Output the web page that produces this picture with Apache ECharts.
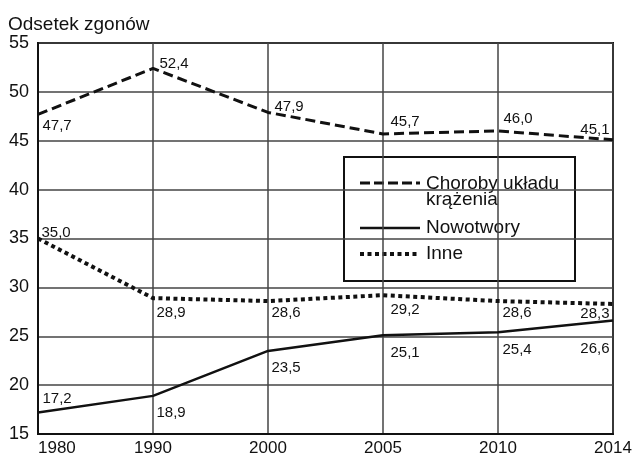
<!DOCTYPE html>
<html>
<head>
<meta charset="utf-8">
<script src="https://cdn.jsdelivr.net/npm/echarts@6/dist/echarts.min.js"></script>
<style>
  html, body { margin: 0; padding: 0; background: #fff; }
  #chart { width: 635px; height: 457px; }
</style>
</head>
<body>
<div id="chart"></div>
<script>
// Struktura zgonów według przyczyn (odsetek)
const years = ['1980', '1990', '2000', '2005', '2010', '2014'];
const krazenie = [47.7, 52.4, 47.9, 45.7, 46.0, 45.1];
const nowotwory = [17.2, 18.9, 23.5, 25.1, 25.4, 26.6];
const inne = [35.0, 28.9, 28.6, 29.2, 28.6, 28.3];

const seriesNames = ['Choroby układu\nkrążenia', 'Nowotwory', 'Inne'];

// label placement for each point: [side, dx, dy]
const krazenieLabelPos = [['r', 4, 12], ['r', 6, -5], ['r', 6, -6], ['r', 7, -12], ['r', 5, -12], ['l', -3, -10]];
const nowotworyLabelPos = [['r', 4, -14], ['r', 3, 17], ['r', 3, 17], ['r', 7, 18], ['r', 4, 18], ['l', -3, 28]];
const inneLabelPos = [['r', 3, -6], ['r', 3, 15], ['r', 3, 12], ['r', 7, 15], ['r', 4, 12], ['l', -3, 10]];

const INK = '#111';
const labelFont = '"Liberation Sans Narrow", "Arial Narrow", "Liberation Sans", sans-serif';
const mainFont = '"Liberation Sans", Arial, sans-serif';

function fmt(v) { return v.toFixed(1).replace('.', ','); }

function buildData(values, placement) {
  return values.map((v, i) => {
    const p = placement[i];
    return {
      value: v,
      label: {
        position: p[0] === 'r' ? 'right' : 'left',
        align: p[0] === 'r' ? 'left' : 'right',
        offset: [p[1], p[2]]
      }
    };
  });
}

function lineSeries(name, values, placement, lineStyle) {
  return {
    name: name,
    type: 'line',
    data: buildData(values, placement),
    symbol: 'circle',
    symbolSize: 1,
    itemStyle: { color: 'rgba(0,0,0,0)' },
    lineStyle: Object.assign({ color: INK }, lineStyle),
    label: {
      show: true,
      distance: 0,
      verticalAlign: 'middle',
      color: INK,
      fontFamily: labelFont,
      fontSize: 15,
      formatter: p => fmt(p.value)
    },
    emphasis: { disabled: true },
    animation: false,
    z: 3
  };
}

const chart = echarts.init(document.getElementById('chart'), null, { renderer: 'canvas' });

const lx = 343, ly = 156;
chart.setOption({
  backgroundColor: '#fff',
  animation: false,
  title: {
    text: 'Odsetek zgonów',
    left: 3,
    top: 10,
    textStyle: { fontFamily: mainFont, fontSize: 19, fontWeight: 'normal', color: INK }
  },
  grid: {
    left: 38, right: 22, top: 43, bottom: 22,
    show: true, borderColor: INK, borderWidth: 2, backgroundColor: 'transparent'
  },
  xAxis: {
    type: 'category',
    data: years,
    boundaryGap: false,
    axisLine: { show: true, lineStyle: { color: INK, width: 2 } },
    axisTick: { show: false },
    axisLabel: {
      color: INK, fontFamily: mainFont, fontSize: 17, margin: 6,
      alignMinLabel: 'left', alignMaxLabel: 'center'
    },
    splitLine: { show: true, lineStyle: { color: '#444', width: 1.5 } }
  },
  yAxis: {
    type: 'value',
    min: 15, max: 55, interval: 5,
    axisLine: { show: true, lineStyle: { color: INK, width: 2 } },
    axisTick: { show: false },
    axisLabel: { color: INK, fontFamily: mainFont, fontSize: 18, margin: 9 },
    splitLine: { show: true, lineStyle: { color: '#444', width: 1.5 } }
  },
  series: [
    lineSeries(seriesNames[0], krazenie, krazenieLabelPos, { width: 3, type: [10, 5] }),
    lineSeries(seriesNames[1], nowotwory, nowotworyLabelPos, { width: 2.5, type: 'solid' }),
    lineSeries(seriesNames[2], inne, inneLabelPos, { width: 4, type: [4, 3.5] })
  ],
  graphic: [
    {
      type: 'group', left: lx, top: ly, z: 100,
      children: [
        { type: 'rect', shape: { x: 0, y: 0, width: 231, height: 124 },
          style: { fill: '#fff', stroke: INK, lineWidth: 2 } },
        { type: 'line', shape: { x1: 16, y1: 26, x2: 76, y2: 26 },
          style: { stroke: INK, lineWidth: 3, lineDash: [10, 4] } },
        { type: 'text', x: 82, y: 19,
          style: { text: seriesNames[0], fill: INK, font: '19px ' + mainFont, lineHeight: 16, verticalAlign: 'top' } },
        { type: 'line', shape: { x1: 16, y1: 71, x2: 76, y2: 71 },
          style: { stroke: INK, lineWidth: 2.5 } },
        { type: 'text', x: 82, y: 71,
          style: { text: seriesNames[1], fill: INK, font: '19px ' + mainFont, verticalAlign: 'middle' } },
        { type: 'line', shape: { x1: 16, y1: 97, x2: 76, y2: 97 },
          style: { stroke: INK, lineWidth: 4, lineDash: [4, 3.5] } },
        { type: 'text', x: 82, y: 97,
          style: { text: seriesNames[2], fill: INK, font: '19px ' + mainFont, verticalAlign: 'middle' } }
      ]
    }
  ]
});
</script>
</body>
</html>
